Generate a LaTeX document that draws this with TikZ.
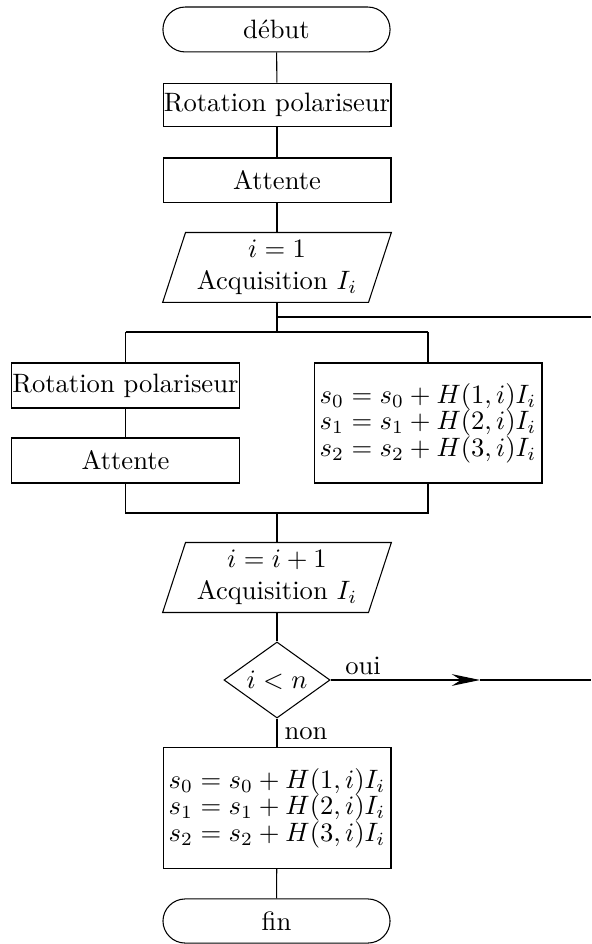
\documentclass[tikz,border=0pt]{standalone}
\usetikzlibrary{shapes.geometric,arrows.meta}
\begin{document}
\begin{tikzpicture}[x=0.376pt,y=-0.376pt,
  every node/.style={inner sep=0pt},
  term/.style={draw,rectangle,rounded corners=8.4pt,minimum width=85.4pt,minimum height=16.9pt},
  proc/.style={draw,rectangle,minimum width=85.7pt,minimum height=16.9pt},
  eqbox/.style={draw,rectangle,minimum width=85.7pt,minimum height=45.4pt,align=left},
  iobox/.style={rectangle,minimum width=85.6pt,minimum height=25.9pt,align=center},
  decision/.style={draw,diamond,aspect=1.4,minimum width=39.9pt,minimum height=28.6pt},
  lbl/.style={inner sep=0pt}
]
\useasboundingbox (0,0) rectangle (591,944);

\node[term] (debut) at (276.5,29.5) {début};
\node[proc,minimum height=16.5pt] (rot1) at (277,105) {Rotation polariseur};
\node[proc] (att1) at (277,180.5) {Attente};
\node[iobox] (p1) at (277,267.5) {$i=1$\\Acquisition $I_i$};
\draw ([xshift=8.6pt]p1.north west) -- (p1.north east) -- ([xshift=-8.6pt]p1.south east) -- (p1.south west) -- cycle;

\node[proc,minimum width=85.4pt] (rot2) at (125.5,385.5) {Rotation polariseur};
\node[proc,minimum width=85.4pt] (att2) at (125.5,460.5) {Attente};
\node[eqbox,minimum height=45.1pt] (eq1) at (428,423) {$s_0=s_0+H(1,i)I_i$\\[-2pt]$s_1=s_1+H(2,i)I_i$\\[-2pt]$s_2=s_2+H(3,i)I_i$};

\node[iobox] (p2) at (277,577.5) {$i=i+1$\\Acquisition $I_i$};
\draw ([xshift=8.6pt]p2.north west) -- (p2.north east) -- ([xshift=-8.6pt]p2.south east) -- (p2.south west) -- cycle;

\node[decision] (dec) at (277,680) {$i<n$};
\node[eqbox] (eq2) at (277,808) {$s_0=s_0+H(1,i)I_i$\\[-2pt]$s_1=s_1+H(2,i)I_i$\\[-2pt]$s_2=s_2+H(3,i)I_i$};
\node[term,minimum height=16.6pt] (fin) at (276.5,921) {fin};

\coordinate (split) at (277,332);
\coordinate (branch) at (277,317);
\coordinate (rightA) at (591,317);
\coordinate (splitL) at (125.5,332);
\coordinate (splitR) at (428,332);
\coordinate (joinL) at (125.5,513);
\coordinate (joinR) at (428,513);
\coordinate (join) at (277,513);
\coordinate (tip) at (480,680);
\coordinate (rightB) at (591,680);

\draw (debut) -- (rot1);
\draw (rot1) -- (att1);
\draw (att1) -- (p1.north);
\draw (p1.south) -- (split);
\draw (branch) -- (rightA);
\draw (splitL) -- (splitR);
\draw (splitL) -- (rot2.north);
\draw (splitR) -- (eq1.north);
\draw (rot2) -- (att2);
\draw (att2.south) -- (joinL) -- (joinR) -- (eq1.south);
\draw (join) -- (p2.north);
\draw (p2.south) -- (dec.north);
\draw[-{Stealth[length=10.6pt,width=4.4pt]}] (dec.east) -- (tip);
\draw (tip) -- (rightB);
\draw (dec.south) -- (eq2.north);
\draw (eq2) -- (fin);

\node[lbl] (oui) at (363,666) {oui};
\node[lbl] (non) at (306,734) {non};
\end{tikzpicture}
\end{document}
